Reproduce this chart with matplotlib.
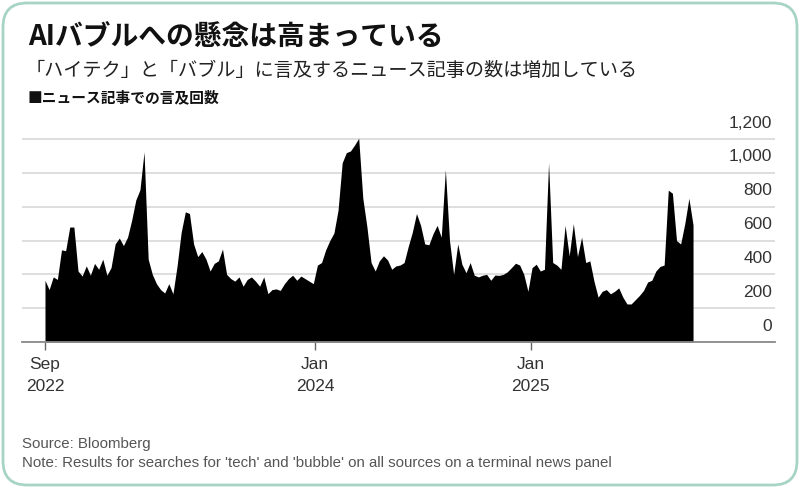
import matplotlib
matplotlib.use("Agg")
import matplotlib.pyplot as plt
from matplotlib.patches import FancyBboxPatch
import pandas as pd

plt.rcParams['font.family'] = ['Noto Sans CJK JP', 'DejaVu Sans']

title = "AIバブルへの懸念は高まっている"
subtitle = "「ハイテク」と「バブル」に言及するニュース記事の数は増加している"
series_label = "■ニュース記事での言及回数"
source = "Source: Bloomberg"
note = "Note: Results for searches for 'tech' and 'bubble' on all sources on a terminal news panel"

# weekly counts
start_date = "2022-09-30"
mentions = [
    365, 310, 385, 370, 545, 540, 680, 680, 420, 390,
    450, 395, 465, 430, 490, 395, 440, 580, 615, 570,
    620, 720, 840, 900, 1125, 490, 400, 345, 310, 290,
    345, 285, 450, 650, 770, 760, 580, 505, 535, 490,
    420, 465, 480, 550, 400, 375, 360, 385, 330, 370,
    385, 360, 330, 385, 286, 310, 314, 305, 345, 375,
    395, 365, 390, 375, 360, 345, 455, 470, 545, 600,
    645, 780, 1060, 1120, 1130, 1165, 1205, 850, 680, 470,
    420, 480, 510, 485, 430, 450, 455, 470, 565, 650,
    760, 690, 580, 575, 640, 690, 620, 1020, 600, 400,
    580, 460, 410, 470, 395, 385, 395, 400, 365, 396,
    394, 400, 415, 440, 466, 455, 400, 300, 440, 460,
    420, 430, 1060, 470, 455, 430, 690, 510, 700, 505,
    620, 470, 480, 360, 265, 300, 310, 285, 300, 320,
    265, 225, 225, 250, 275, 305, 355, 365, 420, 447,
    455, 898, 880, 600, 580, 700, 850, 692,
]
dates = pd.date_range(start_date, periods=len(mentions), freq="7D")

y_ticks = [0, 200, 400, 600, 800, 1000, 1200]
y_tick_labels = ["0", "200", "400", "600", "800", "1,000", "1,200"]
x_ticks = pd.to_datetime(["2022-09-30", "2024-01-01", "2025-01-01"])
x_tick_labels = ["Sep\n2022", "Jan\n2024", "Jan\n2025"]
x_range = pd.to_datetime(["2022-08-22", "2026-02-19"])

fig = plt.figure(figsize=(8, 4.88), dpi=100)
ax = fig.add_axes([22 / 800, 1 - 342 / 488, 753 / 800, 213 / 488])

ax.fill_between(dates, mentions, 0, color="black", lw=0, zorder=3)

ax.set_xlim(x_range[0], x_range[1])
ax.set_ylim(0, 1260)
ax.set_yticks(y_ticks)
ax.yaxis.grid(True, color="#dedede", lw=1.4, zorder=0)
ax.tick_params(axis="y", length=0, labelleft=False)
for v, lab in zip(y_ticks, y_tick_labels):
    ax.annotate(lab, xy=(1, v), xycoords=("axes fraction", "data"),
                xytext=(-2, 11.5), textcoords="offset points",
                ha="right", va="center", fontsize=12.5,
                family="Liberation Sans", color="#333333")

ax.set_xticks(x_ticks)
ax.set_xticklabels(x_tick_labels, family="Liberation Sans", fontsize=12.5,
                   color="#333333", linespacing=1.6)
ax.tick_params(axis="x", length=6, width=1, color="#666666", pad=5)

for s in ["top", "left", "right"]:
    ax.spines[s].set_visible(False)
ax.spines["bottom"].set_color("#8a8a8a")
ax.spines["bottom"].set_linewidth(1.3)
ax.spines["bottom"].set_zorder(4)

fig.text(28 / 800, 1 - 37 / 488, title, fontsize=20, fontweight="bold",
         ha="left", va="center", color="#111111")
fig.text(26 / 800, 1 - 70 / 488, subtitle, fontsize=13.8,
         ha="left", va="center", color="#222222")
fig.text(28 / 800, 1 - 97 / 488, series_label, fontsize=10.6, fontweight="bold",
         ha="left", va="center", color="#111111")

fig.text(22 / 800, 1 - 444 / 488, source, fontsize=10.8, family="Liberation Sans",
         ha="left", va="center", color="#555555")
fig.text(22 / 800, 1 - 463 / 488, note, fontsize=10.8, family="Liberation Sans",
         ha="left", va="center", color="#555555")

# rounded frame around the whole card
frame = FancyBboxPatch((0.03, 0.03), 7.94, 4.82,
                       boxstyle="round,pad=0,rounding_size=0.24",
                       transform=fig.dpi_scale_trans,
                       ec="#a8d4c4", fc="none", lw=2)
fig.patches.append(frame)

fig.savefig("out.png", dpi=100, facecolor="white")
